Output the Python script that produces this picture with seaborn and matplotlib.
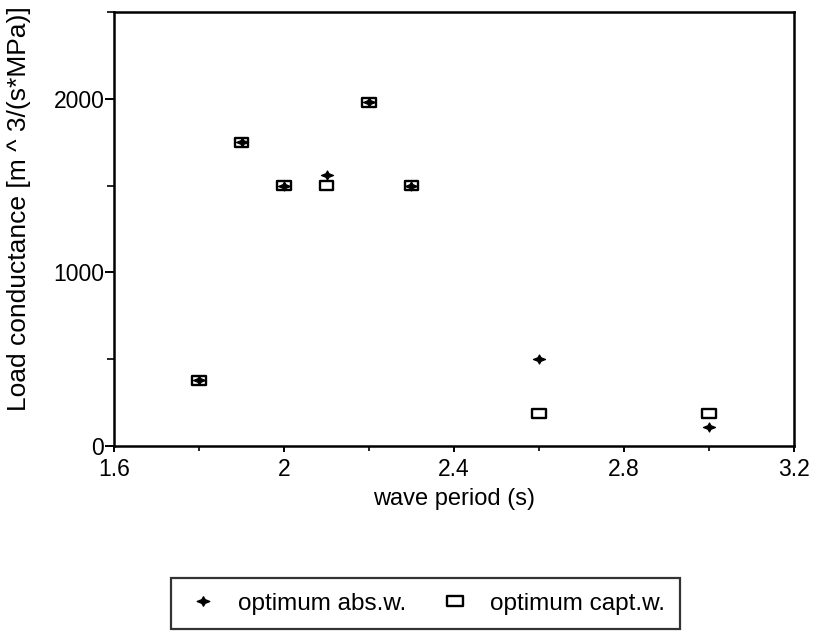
import numpy as np
import pandas as pd
import seaborn as sns
import matplotlib
matplotlib.use("Agg")
import matplotlib.pyplot as plt
from matplotlib.path import Path
from matplotlib.lines import Line2D
from matplotlib.ticker import MultipleLocator

# Data
wave_period = [1.8, 1.9, 2.0, 2.1, 2.2, 2.3, 2.6, 3.0]
optimum_abs_w = [380, 1750, 1500, 1560, 1980, 1500, 500, 110]
optimum_capt_w = [380, 1750, 1500, 1500, 1980, 1500, 190, 190]
series_labels = ["optimum abs.w.", "optimum capt.w."]
x_ticks = [1.6, 2.0, 2.4, 2.8, 3.2]
x_tick_labels = ["1.6", "2", "2.4", "2.8", "3.2"]
y_ticks = [0, 1000, 2000]

sns.set_style("ticks")
plt.rcParams['font.family'] = ['Liberation Sans', 'DejaVu Sans']
plt.rcParams['font.size'] = 17

df = pd.DataFrame({"period": wave_period, "abs": optimum_abs_w, "capt": optimum_capt_w})

plus_path = Path([(-1, 0), (-0.25, 0.3), (0, 0.75), (0.25, 0.3), (1, 0),
                  (0.25, -0.3), (0, -0.75), (-0.25, -0.3), (-1, 0)],
                 [Path.MOVETO] + [Path.LINETO] * 7 + [Path.CLOSEPOLY])
rect_path = Path([(-1, -0.65), (1, -0.65), (1, 0.65), (-1, 0.65), (-1, -0.65)],
                 [Path.MOVETO] + [Path.LINETO] * 3 + [Path.CLOSEPOLY])

fig = plt.figure(figsize=(8.17, 6.32), dpi=100)
ax = fig.add_axes([114 / 817, 1 - 446 / 632, (794 - 114) / 817, (446 - 12) / 632])

sns.scatterplot(data=df, x="period", y="capt", ax=ax, marker=rect_path, s=100,
                color="black", facecolor="none", edgecolor="black", linewidth=1.7, zorder=3)
sns.scatterplot(data=df, x="period", y="abs", ax=ax, marker=plus_path, s=75,
                color="black", edgecolor="black", linewidth=0.9, zorder=4)

ax.set_xlim(1.6, 3.2)
ax.set_ylim(0, 2500)
ax.set_xticks(x_ticks)
ax.set_xticklabels(x_tick_labels)
ax.set_yticks(y_ticks)
ax.xaxis.set_minor_locator(MultipleLocator(0.2))
ax.yaxis.set_minor_locator(MultipleLocator(500))
ax.tick_params(which="both", labelsize=16.5, labelcolor="black", color="black")
ax.tick_params(axis="x", which="major", direction="out", length=4.5, width=1.4, pad=4)
ax.tick_params(axis="x", which="minor", direction="out", length=3.5, width=1.2)
ax.tick_params(axis="y", which="major", direction="out", length=6.5, width=1.4, pad=0.5)
ax.tick_params(axis="y", which="minor", direction="out", length=5, width=1.2)
for sp in ax.spines.values():
    sp.set_visible(True)
    sp.set_linewidth(1.8)
    sp.set_color("black")

ax.set_xlabel("wave period (s)", fontsize=17, labelpad=5, color="black")
ax.set_ylabel("Load conductance [m ^ 3/(s*MPa)]", fontsize=19, color="black")
ax.yaxis.set_label_coords(-0.122, 0.547)

handles = [
    Line2D([], [], ls="none", marker=plus_path, markersize=9, color="black"),
    Line2D([], [], ls="none", marker=rect_path, markersize=11, markerfacecolor="none",
           markeredgecolor="black", markeredgewidth=1.7),
]
leg = fig.legend(handles, series_labels, loc="center", bbox_to_anchor=(425.5 / 817, 1 - 603.5 / 632),
                 ncol=2, frameon=True, fancybox=False, fontsize=17.5, handletextpad=0.75,
                 columnspacing=1.3, borderpad=0.6, handlelength=1.4)
leg.get_frame().set_edgecolor("black")
leg.get_frame().set_linewidth(1.6)
for t in leg.get_texts():
    t.set_color("black")

fig.savefig("out.png", dpi=100)
